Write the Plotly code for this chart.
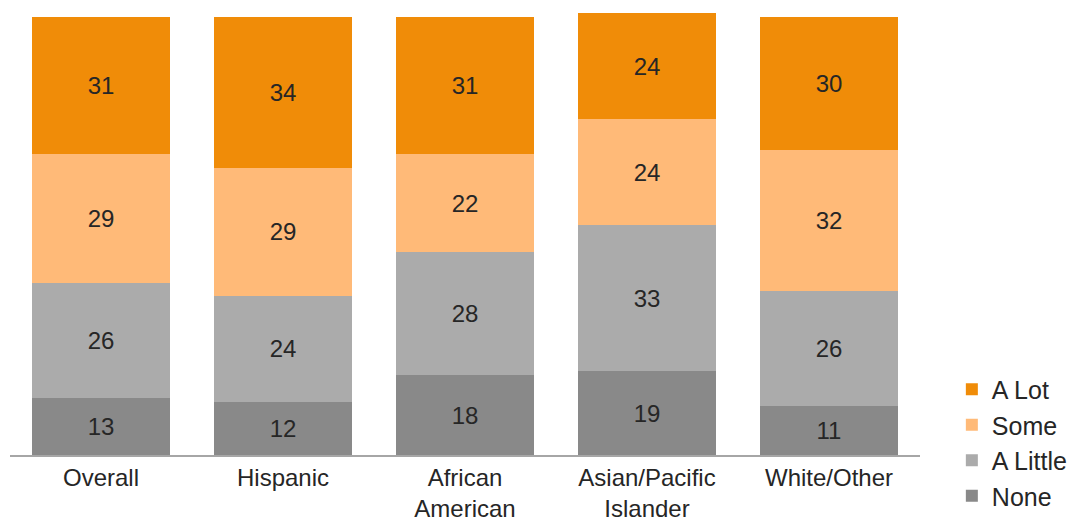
import plotly.graph_objects as go

categories = ["Overall", "Hispanic", "African<br>American", "Asian/Pacific<br>Islander", "White/Other"]
series_names = ["None", "A Little", "Some", "A Lot"]
none_vals = [13, 12, 18, 19, 11]
a_little_vals = [26, 24, 28, 33, 26]
some_vals = [29, 29, 22, 24, 32]
a_lot_vals = [31, 34, 31, 24, 30]
colors = ["#898989", "#ABABAB", "#FFBA78", "#F08C08"]

fig = go.Figure()
for name, vals, col in zip(series_names, [none_vals, a_little_vals, some_vals, a_lot_vals], colors):
    fig.add_trace(go.Bar(
        x=categories, y=vals, name=name,
        marker=dict(color=col, line=dict(width=0)),
        text=[str(v) for v in vals], textposition="inside",
        insidetextanchor="middle",
        textfont=dict(family="Liberation Sans, Arial", size=24, color="#262626"),
        constraintext="none",
    ))

fig.update_layout(
    barmode="stack",
    bargap=0.247,
    width=1073, height=521,
    margin=dict(l=10, r=153, t=13, b=65.5, autoexpand=False),
    paper_bgcolor="white", plot_bgcolor="white",
    font=dict(family="Liberation Sans, Arial", color="#262626"),
    xaxis=dict(
        showline=True, linecolor="#A6A6A6", linewidth=2,
        ticks="", tickfont=dict(size=24, color="#262626"),
        showgrid=False, automargin=False, ticklabelstandoff=0,
    ),
    yaxis=dict(range=[0, 100], visible=False, showgrid=False, automargin=False),
    legend=dict(
        traceorder="reversed",
        x=1.035, xanchor="left", xref="paper",
        y=0.2, yanchor="top",
        font=dict(size=25, color="#262626"),
        itemsizing="constant",
        tracegroupgap=0,
        bgcolor="rgba(0,0,0,0)",
    ),
)

fig.write_html("out.html")
